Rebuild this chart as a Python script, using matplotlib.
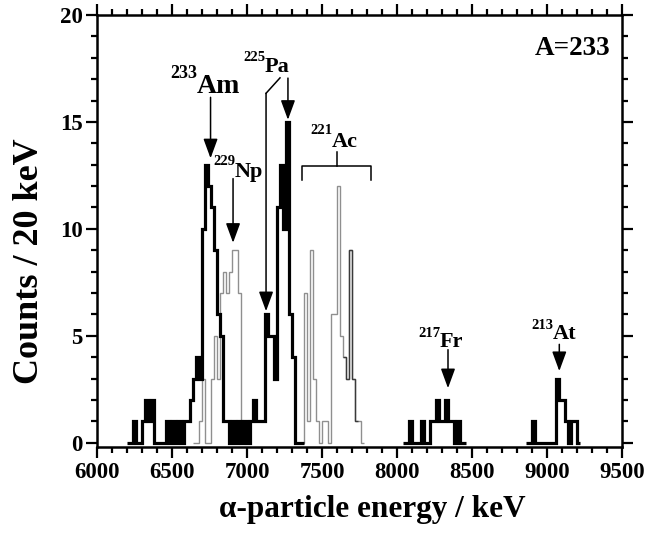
import matplotlib
matplotlib.use('Agg')
import matplotlib.pyplot as plt
import numpy as np
from matplotlib.ticker import MultipleLocator

plt.rcParams['font.family'] = ['Liberation Serif', 'DejaVu Serif']
plt.rcParams['font.weight'] = 'bold'

BIN_KEV = 20

# Thick black spectrum (A=233 correlated alpha events)
black1_start = 6200
black1_counts = [0, 0, 1, 0, 0, 1, 2, 1, 2, 0,
                 0, 0, 0, 1, 0, 1, 0, 1, 0, 1,
                 1, 2, 3, 4, 3, 10, 13, 12, 11, 9,
                 6, 5, 1, 1, 0, 1, 0, 1, 0, 1,
                 0, 1, 2, 1, 1, 1, 6, 5, 5, 3,
                 11, 13, 10, 15, 6, 4, 0, 0, 0]
black2_start = 8040
black2_counts = [0, 0, 1, 0, 0, 0, 1, 0, 0, 1, 1, 2, 1, 1, 2, 1, 1, 0, 1, 0, 0]
black3_start = 8860
black3_counts = [0, 0, 1, 0, 0, 0, 0, 0, 0, 0, 3, 2, 2, 1, 0, 1, 1, 0]

# Thin grey spectra (229Np and 221Ac reference lines)
np_start = 6640
np_counts = [0, 0, 1, 3, 0, 0, 3, 5, 3, 7, 8, 7, 8, 9, 9, 7, 0]
ac_start = 7360
ac_counts = [0, 7, 1, 9, 3, 1, 0, 1, 1, 0, 6, 6, 12, 5, 4, 3, 9, 3, 1, 1, 0]

x_ticks = [6000, 6500, 7000, 7500, 8000, 8500, 9000, 9500]
y_ticks = [0, 5, 10, 15, 20]


def edges(start, counts):
    return start + BIN_KEV * np.arange(len(counts) + 1)


fig = plt.figure(figsize=(6.61, 5.34), dpi=100)
ax = fig.add_axes([97 / 661, 87 / 534, 525 / 661, 432 / 534])

grey = '#8f8f8f'
ax.stairs(np_counts, edges(np_start, np_counts), color=grey, lw=1.0, baseline=None)
ax.stairs(ac_counts, edges(ac_start, ac_counts), color=grey, lw=1.0, baseline=None)
# darker part of the Ac group
ac_e = edges(ac_start, ac_counts)
ax.stairs(ac_counts[14:19], ac_e[14:20], color='#3a3a3a', lw=1.0, baseline=None)

for st, c in [(black1_start, black1_counts), (black2_start, black2_counts),
              (black3_start, black3_counts)]:
    p = ax.stairs(c, edges(st, c), color='black', lw=2.3, baseline=None)
    p.set_joinstyle('miter')

ax.set_xlim(6000, 9500)
ax.set_ylim(-0.2, 20)
ax.set_xticks(x_ticks)
ax.set_yticks(y_ticks)
ax.xaxis.set_minor_locator(MultipleLocator(100))
ax.yaxis.set_minor_locator(MultipleLocator(1))
for s in ax.spines.values():
    s.set_linewidth(1.8)
ax.tick_params(which='both', top=True, right=True, width=1.6, labelsize=16.5)
ax.tick_params(which='major', length=8)
ax.tick_params(which='minor', length=4.5)
ax.tick_params(which='both', direction='out', pad=2.5)
for lab in ax.get_xticklabels() + ax.get_yticklabels():
    lab.set_fontweight('bold')

ax.set_xlabel('α-particle energy / keV', fontsize=22.5, fontweight='bold')
ax.xaxis.set_label_coords(0.524, -0.112)
ax.set_ylabel('Counts / 20 keV', fontsize=26, fontweight='bold')
ax.yaxis.set_label_coords(-0.097, 0.43)

ax.text(9420, 18.13, 'A=233', ha='right', va='baseline', fontsize=19.5, fontweight='bold')


def iso(x, y, sup, name, size, supsize, ysup):
    ax.text(x, y, name, ha='left', va='baseline', fontsize=size, fontweight='bold')
    ax.text(x, ysup, sup, ha='right', va='baseline', fontsize=supsize, fontweight='bold')


iso(6667, 16.35, '233', 'Am', 20, 13, 17.06)
iso(6920, 12.43, '229', 'Np', 16, 10.5, 13.0)
iso(7120, 17.34, '225', 'Pa', 16, 10.5, 17.85)
iso(7567, 13.83, '221', 'Ac', 16, 10.5, 14.45)
iso(8287, 4.49, '217', 'Fr', 16, 10.5, 4.95)
iso(9040, 4.86, '213', 'At', 16, 10.5, 5.3)

aprops = dict(arrowstyle='-|>,head_length=0.6,head_width=0.22', color='black',
              lw=1.1, mutation_scale=20, shrinkA=0, shrinkB=0)


def arrow(x, y0, y1):
    ax.annotate('', xy=(x, y1), xytext=(x, y0), arrowprops=aprops)


arrow(6757, 16.15, 13.3)
arrow(6907, 12.35, 9.35)
arrow(7273, 17.05, 15.1)
arrow(7127, 16.34, 6.15)
ax.plot([7220, 7127], [17.06, 16.34], color='black', lw=1.1)
arrow(8340, 4.35, 2.55)
arrow(9082, 4.6, 3.35)

# 221Ac bracket
ax.plot([7367, 7367, 7827, 7827], [12.3, 12.95, 12.95, 12.3], color='black', lw=1.1)
ax.plot([7600, 7600], [12.95, 13.6], color='black', lw=1.1)

fig.savefig('out.png', dpi=100)
